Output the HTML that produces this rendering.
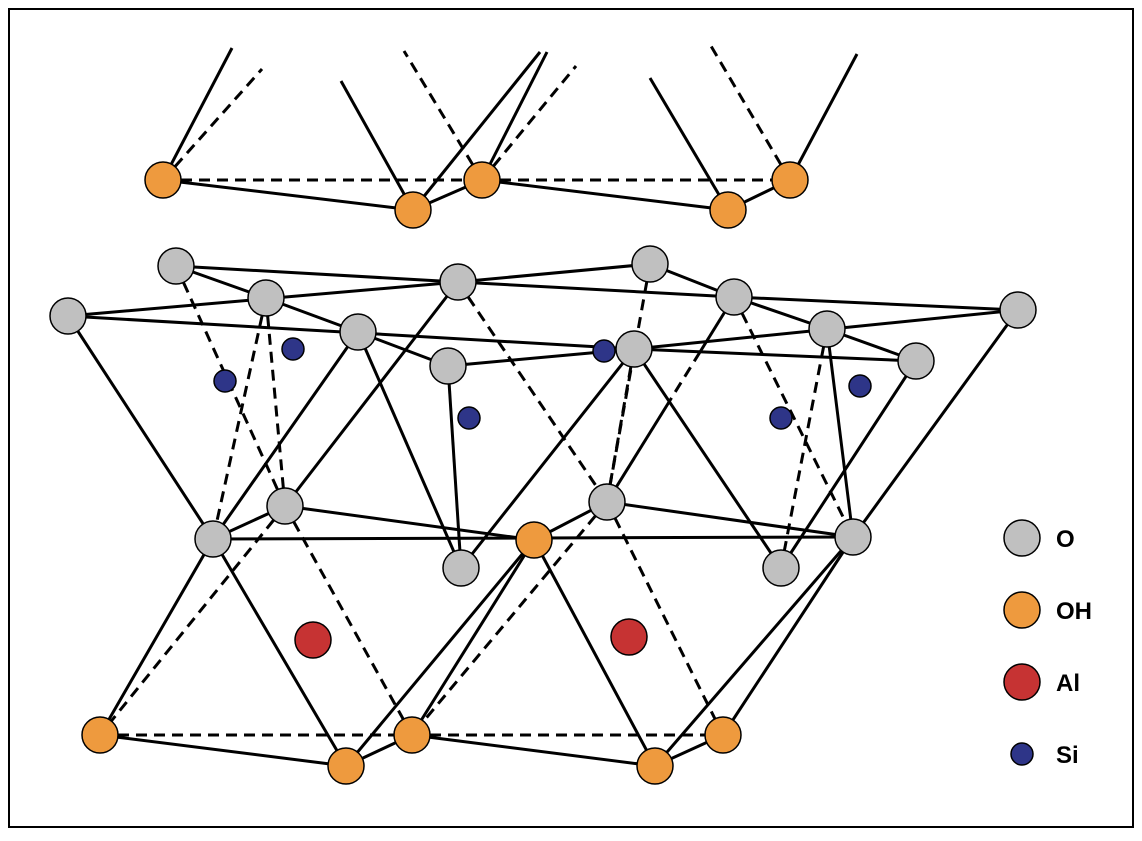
<!DOCTYPE html>
<html><head><style>body{margin:0;background:#fff}</style></head><body>
<svg width="1142" height="836" viewBox="0 0 1142 836" xmlns="http://www.w3.org/2000/svg">
<rect x="9" y="9" width="1124" height="818" fill="#fff" stroke="#000" stroke-width="2"/>
<g stroke="#000" stroke-width="3" fill="none">
<line x1="163" y1="180" x2="232" y2="48"/>
<line x1="413" y1="210" x2="341" y2="81"/>
<line x1="413" y1="210" x2="540" y2="52"/>
<line x1="482" y1="180" x2="547" y2="52"/>
<line x1="728" y1="210" x2="650" y2="78"/>
<line x1="790" y1="180" x2="857" y2="54"/>
<line x1="163" y1="180" x2="413" y2="210"/>
<line x1="413" y1="210" x2="482" y2="180"/>
<line x1="482" y1="180" x2="728" y2="210"/>
<line x1="728" y1="210" x2="790" y2="180"/>
<line x1="176" y1="266" x2="458" y2="282"/>
<line x1="176" y1="266" x2="266" y2="298"/>
<line x1="458" y1="282" x2="650" y2="264"/>
<line x1="650" y1="264" x2="734" y2="297"/>
<line x1="458" y1="282" x2="734" y2="297"/>
<line x1="68" y1="316" x2="458" y2="282"/>
<line x1="68" y1="316" x2="634" y2="349"/>
<line x1="266" y1="298" x2="358" y2="332"/>
<line x1="358" y1="332" x2="448" y2="366"/>
<line x1="448" y1="366" x2="634" y2="349"/>
<line x1="634" y1="349" x2="1018" y2="310"/>
<line x1="734" y1="297" x2="1018" y2="310"/>
<line x1="734" y1="297" x2="827" y2="329"/>
<line x1="827" y1="329" x2="916" y2="361"/>
<line x1="634" y1="349" x2="916" y2="361"/>
<line x1="68" y1="316" x2="213" y2="539"/>
<line x1="358" y1="332" x2="213" y2="539"/>
<line x1="358" y1="332" x2="461" y2="568"/>
<line x1="458" y1="282" x2="285" y2="506"/>
<line x1="448" y1="366" x2="461" y2="568"/>
<line x1="634" y1="349" x2="461" y2="568"/>
<line x1="634" y1="349" x2="781" y2="568"/>
<line x1="734" y1="297" x2="700" y2="352"/>
<line x1="669" y1="402" x2="607" y2="502"/>
<line x1="827" y1="329" x2="853" y2="537"/>
<line x1="916" y1="361" x2="781" y2="568"/>
<line x1="1018" y1="310" x2="853" y2="537"/>
<line x1="213" y1="539" x2="285" y2="506"/>
<line x1="213" y1="539" x2="853" y2="537"/>
<line x1="285" y1="506" x2="534" y2="540"/>
<line x1="534" y1="540" x2="607" y2="502"/>
<line x1="607" y1="502" x2="853" y2="537"/>
<line x1="213" y1="539" x2="100" y2="735"/>
<line x1="213" y1="539" x2="346" y2="766"/>
<line x1="534" y1="540" x2="346" y2="766"/>
<line x1="534" y1="540" x2="412" y2="735"/>
<line x1="534" y1="540" x2="655" y2="766"/>
<line x1="853" y1="537" x2="655" y2="766"/>
<line x1="853" y1="537" x2="723" y2="735"/>
<line x1="100" y1="735" x2="346" y2="766"/>
<line x1="346" y1="766" x2="412" y2="735"/>
<line x1="412" y1="735" x2="655" y2="766"/>
<line x1="655" y1="766" x2="723" y2="735"/>
</g>
<g stroke="#000" stroke-width="3" fill="none" stroke-dasharray="11,7">
<line x1="163" y1="180" x2="262" y2="69"/>
<line x1="482" y1="180" x2="404" y2="51"/>
<line x1="482" y1="180" x2="576" y2="66"/>
<line x1="790" y1="180" x2="711" y2="46"/>
<line x1="163" y1="180" x2="482" y2="180"/>
<line x1="482" y1="180" x2="790" y2="180"/>
<line x1="700" y1="352" x2="669" y2="402"/>
<line x1="176" y1="266" x2="285" y2="506"/>
<line x1="266" y1="298" x2="285" y2="506"/>
<line x1="266" y1="298" x2="213" y2="539"/>
<line x1="458" y1="282" x2="607" y2="502"/>
<line x1="650" y1="264" x2="607" y2="502"/>
<line x1="634" y1="349" x2="607" y2="502"/>
<line x1="734" y1="297" x2="853" y2="537"/>
<line x1="827" y1="329" x2="781" y2="568"/>
<line x1="285" y1="506" x2="100" y2="735"/>
<line x1="285" y1="506" x2="412" y2="735"/>
<line x1="607" y1="502" x2="412" y2="735"/>
<line x1="607" y1="502" x2="723" y2="735"/>
<line x1="100" y1="735" x2="412" y2="735"/>
<line x1="412" y1="735" x2="723" y2="735"/>
</g>
<g stroke="#000" stroke-width="1.5">
<g fill="#ee9a3e">
<circle cx="163" cy="180" r="18"/><circle cx="413" cy="210" r="18"/><circle cx="482" cy="180" r="18"/><circle cx="728" cy="210" r="18"/><circle cx="790" cy="180" r="18"/>
<circle cx="534" cy="540" r="18"/>
<circle cx="100" cy="735" r="18"/><circle cx="346" cy="766" r="18"/><circle cx="412" cy="735" r="18"/><circle cx="655" cy="766" r="18"/><circle cx="723" cy="735" r="18"/>
<circle cx="1022" cy="610" r="18"/>
</g>
<g fill="#c0c0c0">
<circle cx="176" cy="266" r="18"/><circle cx="458" cy="282" r="18"/><circle cx="650" cy="264" r="18"/><circle cx="68" cy="316" r="18"/><circle cx="266" cy="298" r="18"/><circle cx="358" cy="332" r="18"/><circle cx="448" cy="366" r="18"/><circle cx="634" cy="349" r="18"/><circle cx="734" cy="297" r="18"/><circle cx="827" cy="329" r="18"/><circle cx="1018" cy="310" r="18"/><circle cx="916" cy="361" r="18"/>
<circle cx="285" cy="506" r="18"/><circle cx="213" cy="539" r="18"/><circle cx="607" cy="502" r="18"/><circle cx="461" cy="568" r="18"/><circle cx="781" cy="568" r="18"/><circle cx="853" cy="537" r="18"/>
<circle cx="1022" cy="538" r="18"/>
</g>
<g fill="#c63333">
<circle cx="313" cy="640" r="18"/><circle cx="629" cy="637" r="18"/><circle cx="1022" cy="682" r="18"/>
</g>
<g fill="#2e3588">
<circle cx="293" cy="349" r="11"/><circle cx="225" cy="381" r="11"/><circle cx="469" cy="418" r="11"/><circle cx="604" cy="351" r="11"/><circle cx="781" cy="418" r="11"/><circle cx="860" cy="386" r="11"/><circle cx="1022" cy="754" r="11"/>
</g>
</g>
<g font-family="Liberation Sans, sans-serif" font-weight="bold" font-size="24" fill="#000">
<text x="1056" y="547">O</text><text x="1056" y="619">OH</text><text x="1056" y="691">Al</text><text x="1056" y="763">Si</text>
</g>
</svg>
</body></html>
